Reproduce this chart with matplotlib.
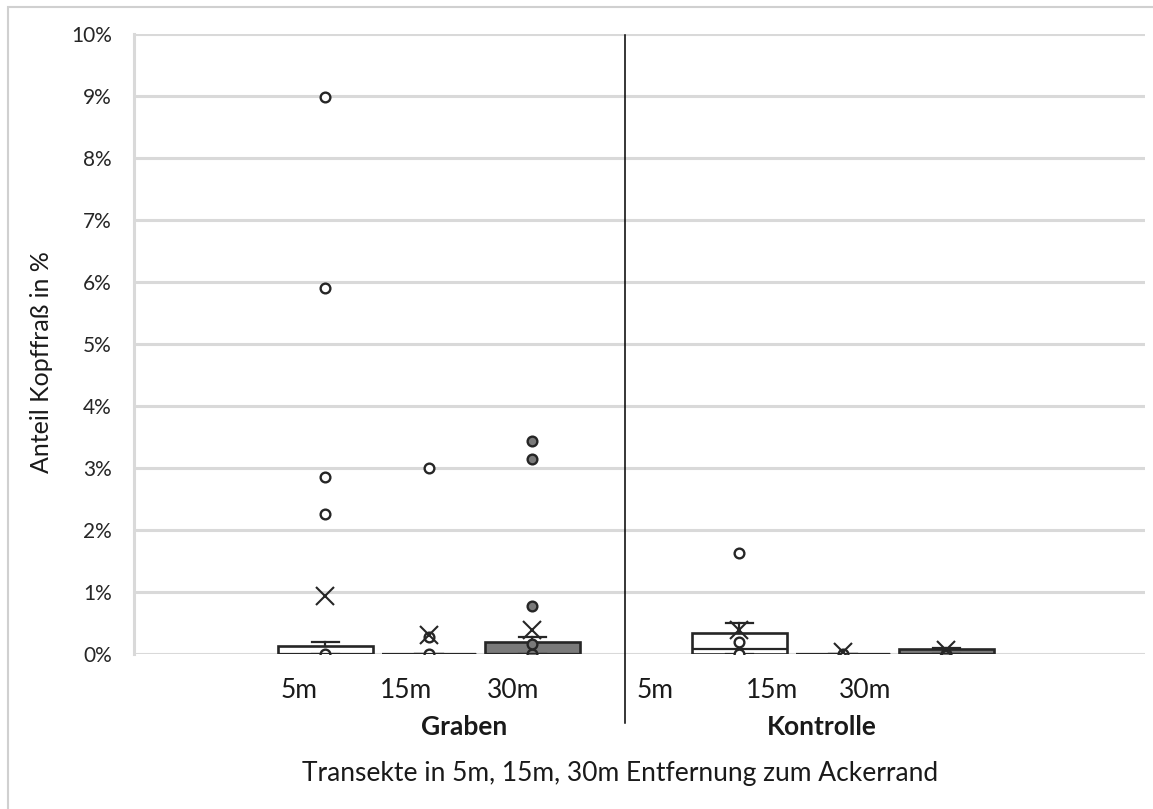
import matplotlib
matplotlib.use("Agg")
import matplotlib.pyplot as plt
from matplotlib.lines import Line2D
from matplotlib.patches import Rectangle
from matplotlib.ticker import FuncFormatter

# Anteil Kopffraß (in %) je Transekt; Gruppen Graben / Kontrolle
groups = ["Graben", "Kontrolle"]
distances = ["5m", "15m", "30m"]

q1 = [0.0, 0.0, 0.0, 0.0, 0.0, 0.0]
median = [0.0, 0.0, 0.0, 0.07, 0.0, 0.0]
q3 = [0.12, 0.0, 0.19, 0.33, 0.0, 0.07]
whisker_low = [0.0, 0.0, 0.0, 0.0, 0.0, 0.0]
whisker_high = [0.19, 0.0, 0.27, 0.50, 0.0, 0.09]
means = [0.93, 0.30, 0.38, 0.38, 0.03, 0.05]
points = [
    [0.0, 2.25, 2.85, 5.89, 8.98],
    [0.0, 0.27, 3.0],
    [0.0, 0.16, 0.77, 3.14, 3.43],
    [0.0, 0.19, 1.62],
    [0.0],
    [0.0],
]
y_ticks = list(range(0, 11))

W, H = 1153, 809
fig = plt.figure(figsize=(W / 100, H / 100), dpi=100)
plt.rcParams["font.family"] = ["Lato", "DejaVu Sans"]

def fx(x):
    return x / W

def fy(y):
    return 1 - y / H

ax = fig.add_axes([fx(134), fy(653.5), fx(1145) - fx(134), fy(33.5) - fy(653.5)])

fill_colors = ["white", "white", "#7a7a7a"] * 2
positions = [1.85, 2.85, 3.85, 5.85, 6.85, 7.85]
edge = "#262626"

for i in range(len(positions)):
    stats = [dict(med=median[i], q1=q1[i], q3=q3[i], whislo=whisker_low[i],
                  whishi=whisker_high[i], mean=means[i], fliers=points[i])]
    ax.bxp(stats, positions=[positions[i]], widths=0.91, patch_artist=True,
           showmeans=True, showfliers=True, manage_ticks=False,
           boxprops=dict(facecolor=fill_colors[i], edgecolor=edge, linewidth=1.9),
           medianprops=dict(color=edge, linewidth=1.6),
           whiskerprops=dict(color=edge, linewidth=1.6),
           capprops=dict(color=edge, linewidth=1.6),
           capwidths=0.27,
           meanprops=dict(marker="x", markersize=13, markeredgecolor=edge,
                          markeredgewidth=1.5, linestyle="none"),
           flierprops=dict(marker="o", markersize=7, markerfacecolor=fill_colors[i],
                           markeredgecolor=edge, markeredgewidth=1.7,
                           linestyle="none"))

ax.set_xlim(0, 1011 / 103.5)
ax.set_ylim(0, 10)
ax.set_yticks(y_ticks)
ax.yaxis.set_major_formatter(FuncFormatter(lambda v, p: f"{int(v)}%"))
ax.tick_params(axis="y", length=0, pad=16, labelsize=15, labelcolor="#262626")
ax.set_xticks([])
ax.grid(axis="y", color="#d9d9d9", linewidth=2.2)
ax.set_axisbelow(True)
for side in ["top", "right", "bottom"]:
    ax.spines[side].set_visible(False)
ax.spines["left"].set_color("#d9d9d9")
ax.spines["left"].set_linewidth(2.2)

# Separator between the two groups
fig.add_artist(Line2D([fx(625), fx(625)], [fy(35), fy(723)], color="black", linewidth=1.1))

# Category labels under the boxes
tick_x = [[299, 406, 513], [655, 772, 865]]
group_x = [464, 822]
for g, name in enumerate(groups):
    for d, lab in enumerate(distances):
        fig.text(fx(tick_x[g][d]), fy(691), lab, ha="center", va="center",
                 fontsize=19, color="#1a1a1a")
    fig.text(fx(group_x[g]), fy(727), name, ha="center", va="center",
             fontsize=19, fontweight="bold", color="#1a1a1a")

fig.text(fx(620), fy(773), "Transekte in 5m, 15m, 30m Entfernung zum Ackerrand",
         ha="center", va="center", fontsize=19, color="#1a1a1a")
fig.text(fx(42), fy(362), "Anteil Kopffraß in %", ha="center", va="center",
         rotation=90, fontsize=18, color="#1a1a1a")

# Chart area frame
fig.add_artist(Rectangle((fx(8), fy(815)), 1.2, fy(7) - fy(815), transform=fig.transFigure,
                         fill=False, edgecolor="#d0d0d0", linewidth=1.5))

fig.savefig("out.png", dpi=100)
